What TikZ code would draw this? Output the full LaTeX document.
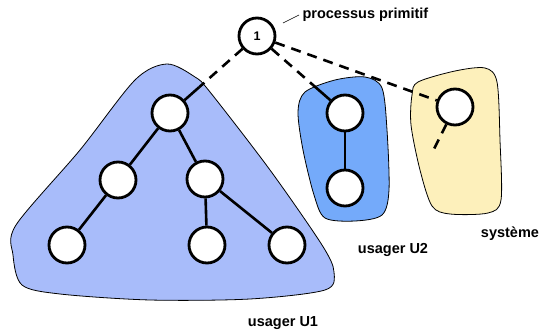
\documentclass[tikz,border=0pt]{standalone}
\usepackage{fontspec}
\setmainfont{Liberation Sans}
\usetikzlibrary{positioning}
\definecolor{bleuU1}{RGB}{168,188,250}
\definecolor{bleuU2}{RGB}{116,170,250}
\definecolor{jaunesys}{RGB}{253,240,187}
\begin{document}
\begin{tikzpicture}[x=1pt,y=-1pt,
    proc/.style={circle,draw,line width=2.8pt,fill=white,minimum size=36pt,inner sep=0pt},
    lien/.style={line width=2.6pt},
    pointille/.style={line width=2.6pt,dash pattern=on 10pt off 7pt},
    etiq/.style={font=\bfseries\fontsize{14.5}{17}\selectfont}]
      \useasboundingbox (0,0) rectangle (541,331);

      \draw[fill=bleuU1,line width=0.8pt] plot [smooth cycle,tension=0.5] coordinates {(167,64) (195,77) (210,92) (270,170) (322,245) (334,272) (325,290) (250,299) (150,300) (60,294) (22,285) (13,255) (16,225) (80,150) (135,80)};
      \draw[fill=bleuU2,line width=0.8pt] plot [smooth cycle,tension=0.5] coordinates {(305,92) (335,80) (365,77) (382,88) (387,130) (389,190) (382,215) (355,221) (325,218) (314,195) (303,150) (298,112)};
      \draw[fill=jaunesys,line width=0.8pt] plot [smooth cycle,tension=0.5] coordinates {(418,82) (455,71) (485,68) (497,82) (500,140) (501,200) (488,213) (450,214) (432,206) (420,170) (411,125) (412,95)};

      \node[proc,font=\bfseries\fontsize{12.5}{14}\selectfont] (p1) at (257,36) {1};
      \node[proc] (r) at (170,113) {};
      \node[proc] (a) at (118,180) {};
      \node[proc] (b) at (205,179) {};
      \node[proc] (c) at (67,245) {};
      \node[proc] (d) at (207,245) {};
      \node[proc] (e) at (287,245) {};
      \node[proc] (u) at (345,113) {};
      \node[proc] (v) at (345,188) {};
      \node[proc] (s) at (455,107) {};

      \path (p1) -- (r) coordinate[pos=0.75] (pr);
      \path (p1) -- (u) coordinate[pos=0.7] (pu);
      \coordinate (sb) at (433,151);
      \draw[pointille] (p1) -- (pr);
      \draw[lien] (pr) -- (r);
      \draw[pointille] (p1) -- (pu);
      \draw[lien] (pu) -- (u);
      \draw[pointille] (p1) -- (s);
      \draw[pointille] (s) -- (sb);

      \draw[lien] (r) -- (a);
      \draw[lien] (r) -- (b);
      \draw[lien] (a) -- (c);
      \draw[lien] (b) -- (d);
      \draw[lien] (b) -- (e);
      \draw[lien] (u) -- (v);

      \node[etiq,anchor=west] (lp) at (299,15) {processus primitif};
      \coordinate (lq) at (283,23);
      \draw[line width=0.6pt] (lq) -- (lp.west);
      \node[etiq] (l1) at (283,323) {usager U1};
      \node[etiq] (l2) at (393,250) {usager U2};
      \node[etiq] (l3) at (510,234) {système};
    \end{tikzpicture}
\end{document}
